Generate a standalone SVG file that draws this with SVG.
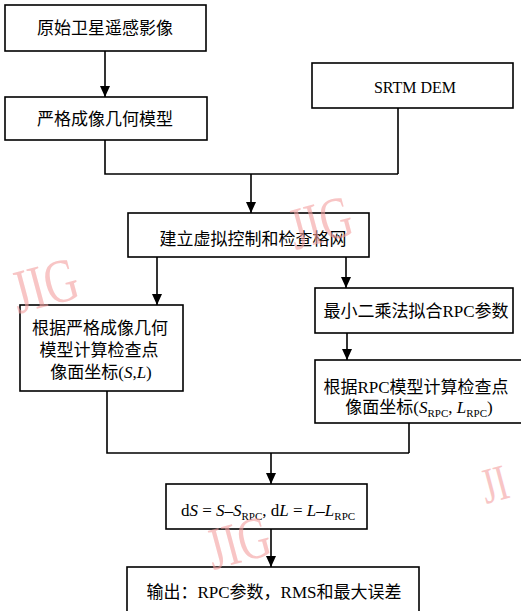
<svg xmlns="http://www.w3.org/2000/svg" width="521" height="611" viewBox="0 0 521 611">
<defs>
<marker id="arr" viewBox="0 0 11 10" refX="11" refY="5" markerWidth="11" markerHeight="10" markerUnits="userSpaceOnUse" orient="auto">
<path d="M0,0 L11,5 L0,10 z" fill="#000"/>
</marker>
<style>
.box{fill:#fff;stroke:#000;stroke-width:1.6}
.t{font-family:"Liberation Serif","Noto Sans CJK SC",serif;font-size:17px;fill:#000;text-anchor:middle}
.en{font-family:"Liberation Serif",serif;font-size:16px;fill:#000;text-anchor:middle}
.sub{font-size:11px}
.i{font-style:italic}
.ln{fill:none;stroke:#000;stroke-width:1.6}
.wm{font-family:"Liberation Serif",serif;font-size:46px;fill:#f4a0a0;opacity:0.6}
</style>
</defs>
<rect width="521" height="611" fill="#fff"/>
<g id="connectors">
<line class="ln" x1="105" y1="51" x2="105" y2="97" marker-end="url(#arr)"/>
<polyline class="ln" points="105,140 105,174 398,174"/>
<line class="ln" x1="398" y1="108" x2="398" y2="174"/>
<line class="ln" x1="251" y1="174" x2="251" y2="213" marker-end="url(#arr)"/>
<line class="ln" x1="157" y1="257" x2="157" y2="305" marker-end="url(#arr)"/>
<line class="ln" x1="346" y1="257" x2="346" y2="288" marker-end="url(#arr)"/>
<line class="ln" x1="347" y1="333" x2="347" y2="360" marker-end="url(#arr)"/>
<polyline class="ln" points="107,391 107,453 409,453"/>
<line class="ln" x1="409" y1="423" x2="409" y2="453"/>
<line class="ln" x1="271" y1="453" x2="271" y2="484" marker-end="url(#arr)"/>
<line class="ln" x1="271" y1="529" x2="271" y2="567" marker-end="url(#arr)"/>
</g>
<g id="n1">
<rect class="box" x="5" y="5" width="201" height="46"/>
<text class="t" x="105" y="34">原始卫星遥感影像</text>
</g>
<g id="n2">
<rect class="box" x="5" y="97" width="202" height="43"/>
<text class="t" x="105" y="125">严格成像几何模型</text>
</g>
<g id="n3">
<rect class="box" x="312" y="63" width="201" height="45"/>
<text class="en" x="415" y="93">SRTM DEM</text>
</g>
<g id="n4">
<rect class="box" x="128" y="213" width="241" height="44"/>
<text class="t" x="253" y="245">建立虚拟控制和检查格网</text>
</g>
<g id="n5">
<rect class="box" x="20" y="305" width="163" height="86"/>
<text class="t" x="100" y="334">根据严格成像几何</text>
<text class="t" x="99" y="356">模型计算检查点</text>
<text class="t" x="101" y="378">像面坐标(<tspan class="i">S</tspan>,<tspan class="i">L</tspan>)</text>
</g>
<g id="n6">
<rect class="box" x="315" y="288" width="198" height="45"/>
<text class="t" x="416" y="317">最小二乘法拟合RPC参数</text>
</g>
<g id="n7">
<rect class="box" x="315" y="360" width="215" height="63"/>
<text class="t" x="416" y="393">根据RPC模型计算检查点</text>
<text class="t" x="419" y="413">像面坐标(<tspan class="i">S</tspan><tspan class="sub" dy="4">RPC</tspan><tspan dy="-4">, </tspan><tspan class="i">L</tspan><tspan class="sub" dy="4">RPC</tspan><tspan dy="-4">)</tspan></text>
</g>
<g id="n8">
<rect class="box" x="166" y="484" width="201" height="45"/>
<text class="t" x="268" y="516">d<tspan class="i">S</tspan> = <tspan class="i">S</tspan>–<tspan class="i">S</tspan><tspan class="sub" dy="4">RPC</tspan><tspan dy="-4">, d</tspan><tspan class="i">L</tspan> = <tspan class="i">L</tspan>–<tspan class="i">L</tspan><tspan class="sub" dy="4">RPC</tspan></text>
</g>
<g id="n9">
<rect class="box" x="127" y="567" width="292" height="50"/>
<text class="t" x="274" y="598">输出：RPC参数，RMS和最大误差</text>
</g>
<g id="watermarks">
<text class="wm" transform="translate(295,250) rotate(-15) scale(0.95,1.3)">JIG</text>
<text class="wm" transform="translate(18,314) rotate(-15) scale(1,1.35)">JIG</text>
<text class="wm" transform="translate(213,570) rotate(-15) scale(0.95,1.3)">JIG</text>
<text class="wm" transform="translate(486,504) rotate(-15) scale(0.8,1.1)">JI</text>
</g>
</svg>
